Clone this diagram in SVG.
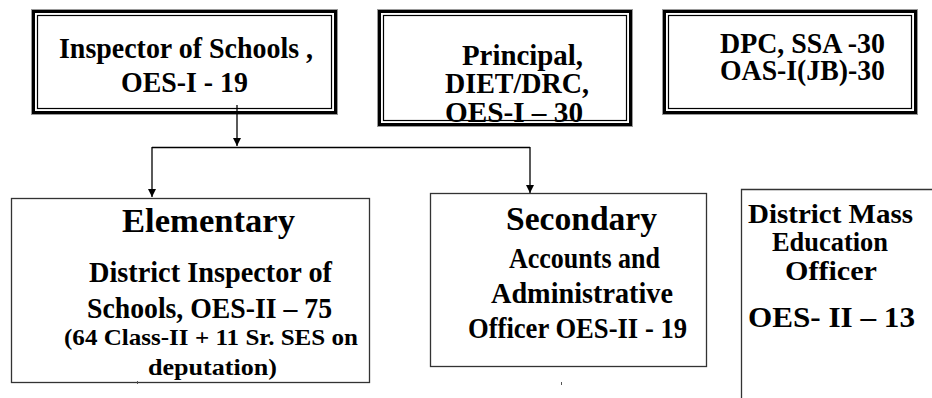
<svg xmlns="http://www.w3.org/2000/svg" width="932" height="398" viewBox="0 0 932 398">
<defs>
<style>
.bg{fill:#fff}
.o1{fill:none;stroke:#999;stroke-width:1}
.o2{fill:none;stroke:#000;stroke-width:3}
.o3{fill:none;stroke:#000;stroke-width:1.2}
.bx{fill:none;stroke:#333;stroke-width:1.3}
.t{font-weight:bold;fill:#000}
.c{fill:none;stroke:#000;stroke-width:1.3}
</style>
<marker id="a2" markerUnits="userSpaceOnUse" markerWidth="10" markerHeight="10" refX="9" refY="5" orient="auto" viewBox="0 0 10 10">
<path d="M1,1 L9,5 L1,9 Z" fill="#000"/>
</marker>
</defs>
<rect class="bg" x="0" y="0" width="932" height="398"/>

<g font-family="Liberation Serif, serif">
<g id="node-inspector">
<rect class="o1" x="31.5" y="9.5" width="306" height="105"/>
<rect class="o2" x="33.5" y="11.5" width="302" height="101"/>
<rect class="o3" x="37.5" y="15.5" width="294" height="93"/>
<text class="t" font-size="30" x="59" y="58" textLength="254" lengthAdjust="spacingAndGlyphs">Inspector of Schools ,</text>
<text class="t" font-size="30" x="121" y="92" textLength="127" lengthAdjust="spacingAndGlyphs">OES-I - 19</text>
</g>

<g id="node-principal">
<rect class="o1" x="377.5" y="9.5" width="255" height="117"/>
<rect class="o2" x="379.5" y="11.5" width="251" height="113"/>
<rect class="o3" x="383.5" y="15.5" width="243" height="105"/>
<text class="t" font-size="29" x="462" y="65" textLength="121" lengthAdjust="spacingAndGlyphs">Principal,</text>
<text class="t" font-size="29" x="445" y="93" textLength="144" lengthAdjust="spacingAndGlyphs">DIET/DRC,</text>
<text class="t" font-size="29" x="445" y="122" textLength="138" lengthAdjust="spacingAndGlyphs">OES-I – 30</text>
</g>

<g id="node-dpc">
<rect class="o1" x="662.5" y="9.5" width="255" height="105"/>
<rect class="o2" x="664.5" y="11.5" width="251" height="101"/>
<rect class="o3" x="668.5" y="15.5" width="243" height="93"/>
<text class="t" font-size="29" x="720" y="53" textLength="165" lengthAdjust="spacingAndGlyphs">DPC, SSA -30</text>
<text class="t" font-size="29" x="720" y="80" textLength="165" lengthAdjust="spacingAndGlyphs">OAS-I(JB)-30</text>
</g>

<g id="node-elementary">
<rect class="bx" x="11.5" y="198.5" width="358" height="184"/>
<rect x="137" y="381" width="1" height="3" fill="#555"/>
<text class="t" font-size="34" x="122" y="232" textLength="173" lengthAdjust="spacingAndGlyphs">Elementary</text>
<text class="t" font-size="29" x="89" y="282" textLength="243" lengthAdjust="spacingAndGlyphs">District Inspector of</text>
<text class="t" font-size="29" x="87" y="318" textLength="245" lengthAdjust="spacingAndGlyphs">Schools, OES-II – 75</text>
<text class="t" font-size="24" x="64" y="345" textLength="294" lengthAdjust="spacingAndGlyphs">(64 Class-II + 11 Sr. SES on</text>
<text class="t" font-size="24" x="148" y="375" textLength="129" lengthAdjust="spacingAndGlyphs">deputation)</text>
</g>

<g id="node-secondary">
<rect class="bx" x="430.5" y="193.5" width="276" height="173"/>
<text class="t" font-size="34" x="506" y="230" textLength="151" lengthAdjust="spacingAndGlyphs">Secondary</text>
<text class="t" font-size="29" x="509" y="268" textLength="151" lengthAdjust="spacingAndGlyphs">Accounts and</text>
<text class="t" font-size="29" x="491" y="303" textLength="182" lengthAdjust="spacingAndGlyphs">Administrative</text>
<text class="t" font-size="29" x="468" y="338" textLength="219" lengthAdjust="spacingAndGlyphs">Officer OES-II - 19</text>
</g>
<rect x="561" y="382" width="1" height="3" fill="#555"/>

<g id="node-mass">
<path class="bx" d="M741.5,398 V189.5 H932"/>
<text class="t" font-size="28" x="748" y="223" textLength="165" lengthAdjust="spacingAndGlyphs">District Mass</text>
<text class="t" font-size="28" x="772" y="251" textLength="116" lengthAdjust="spacingAndGlyphs">Education</text>
<text class="t" font-size="28" x="785" y="280" textLength="92" lengthAdjust="spacingAndGlyphs">Officer</text>
<text class="t" font-size="29" x="748" y="327" textLength="167" lengthAdjust="spacingAndGlyphs">OES- II – 13</text>
</g>
</g>

<g id="connectors">
<path class="c" d="M237,105 V146" marker-end="url(#a2)"/>
<path class="c" d="M152,147.5 H530"/>
<path class="c" d="M152,147 V197" marker-end="url(#a2)"/>
<path class="c" d="M530,147 V193" marker-end="url(#a2)"/>
</g>
</svg>
